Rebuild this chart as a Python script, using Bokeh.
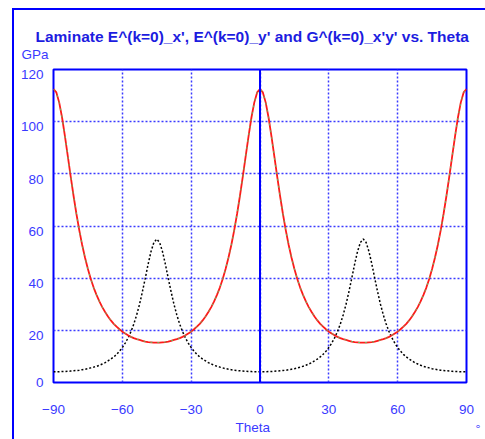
from bokeh.plotting import figure
from bokeh.models import Range1d, Span, FixedTicker, Title
from bokeh.embed import file_html
from bokeh.resources import INLINE

# ---- data (GPa vs. theta in degrees) ----
theta_deg = [-90, -88.75, -87.5, -86.25, -85, -83.75, -82.5, -81.25, -80, -78.75,
             -77.5, -76.25, -75, -73.75, -72.5, -71.25, -70, -68.75, -67.5, -66.25,
             -65, -63.75, -62.5, -61.25, -60, -58.75, -57.5, -56.25, -55, -53.75,
             -52.5, -51.25, -50, -48.75, -47.5, -46.25, -45, -43.75, -42.5, -41.25,
             -40, -38.75, -37.5, -36.25, -35, -33.75, -32.5, -31.25, -30, -28.75,
             -27.5, -26.25, -25, -23.75, -22.5, -21.25, -20, -18.75, -17.5, -16.25,
             -15, -13.75, -12.5, -11.25, -10, -8.75, -7.5, -6.25, -5, -3.75,
             -2.5, -1.25, 0, 1.25, 2.5, 3.75, 5, 6.25, 7.5, 8.75,
             10, 11.25, 12.5, 13.75, 15, 16.25, 17.5, 18.75, 20, 21.25,
             22.5, 23.75, 25, 26.25, 27.5, 28.75, 30, 31.25, 32.5, 33.75,
             35, 36.25, 37.5, 38.75, 40, 41.25, 42.5, 43.75, 45, 46.25,
             47.5, 48.75, 50, 51.25, 52.5, 53.75, 55, 56.25, 57.5, 58.75,
             60, 61.25, 62.5, 63.75, 65, 66.25, 67.5, 68.75, 70, 71.25,
             72.5, 73.75, 75, 76.25, 77.5, 78.75, 80, 81.25, 82.5, 83.75,
             85, 86.25, 87.5, 88.75, 90]

ex_gpa = [112.5, 111.2, 107.3, 101.5, 94.4, 86.7, 78.9, 71.5, 64.6, 58.3,
          52.7, 47.8, 43.5, 39.7, 36.4, 33.6, 31.1, 28.9, 27.0, 25.3,
          23.8, 22.5, 21.4, 20.4, 19.5, 18.8, 18.1, 17.5, 17.0, 16.6,
          16.3, 16.0, 15.7, 15.5, 15.4, 15.3, 15.3, 15.3, 15.4, 15.5,
          15.7, 16.0, 16.3, 16.6, 17.0, 17.5, 18.1, 18.8, 19.5, 20.4,
          21.4, 22.5, 23.8, 25.3, 27.0, 28.9, 31.1, 33.6, 36.4, 39.7,
          43.5, 47.8, 52.7, 58.3, 64.6, 71.5, 78.9, 86.7, 94.4, 101.5,
          107.3, 111.2, 112.5, 111.2, 107.3, 101.5, 94.4, 86.7, 78.9, 71.5,
          64.6, 58.3, 52.7, 47.8, 43.5, 39.7, 36.4, 33.6, 31.1, 28.9,
          27.0, 25.3, 23.8, 22.5, 21.4, 20.4, 19.5, 18.8, 18.1, 17.5,
          17.0, 16.6, 16.3, 16.0, 15.7, 15.5, 15.4, 15.3, 15.3, 15.3,
          15.4, 15.5, 15.7, 16.0, 16.3, 16.6, 17.0, 17.5, 18.1, 18.8,
          19.5, 20.4, 21.4, 22.5, 23.8, 25.3, 27.0, 28.9, 31.1, 33.6,
          36.4, 39.7, 43.5, 47.8, 52.7, 58.3, 64.6, 71.5, 78.9, 86.7,
          94.4, 101.5, 107.3, 111.2, 112.5]

# E_y' reads identical to E_x' over the whole plotted range (drawn as dashes on top)
ey_gpa = list(ex_gpa)

gxy_gpa = [4.1, 4.1, 4.1, 4.2, 4.2, 4.3, 4.4, 4.5, 4.6, 4.7,
           4.9, 5.1, 5.3, 5.6, 5.9, 6.2, 6.6, 7.1, 7.6, 8.3,
           9.0, 9.8, 10.8, 12.0, 13.4, 15.1, 17.1, 19.5, 22.4, 25.9,
           30.0, 34.8, 40.0, 45.4, 50.2, 53.7, 55.0, 53.7, 50.2, 45.4,
           40.0, 34.8, 30.0, 25.9, 22.4, 19.5, 17.1, 15.1, 13.4, 12.0,
           10.8, 9.8, 9.0, 8.3, 7.6, 7.1, 6.6, 6.2, 5.9, 5.6,
           5.3, 5.1, 4.9, 4.7, 4.6, 4.5, 4.4, 4.3, 4.2, 4.2,
           4.1, 4.1, 4.1, 4.1, 4.1, 4.2, 4.2, 4.3, 4.4, 4.5,
           4.6, 4.7, 4.9, 5.1, 5.3, 5.6, 5.9, 6.2, 6.6, 7.1,
           7.6, 8.3, 9.0, 9.8, 10.8, 12.0, 13.4, 15.1, 17.1, 19.5,
           22.4, 25.9, 30.0, 34.8, 40.0, 45.4, 50.2, 53.7, 55.0, 53.7,
           50.2, 45.4, 40.0, 34.8, 30.0, 25.9, 22.4, 19.5, 17.1, 15.1,
           13.4, 12.0, 10.8, 9.8, 9.0, 8.3, 7.6, 7.1, 6.6, 6.2,
           5.9, 5.6, 5.3, 5.1, 4.9, 4.7, 4.6, 4.5, 4.4, 4.3,
           4.2, 4.2, 4.1, 4.1, 4.1]

x_ticks = [-90, -60, -30, 0, 30, 60, 90]
y_ticks = [0, 20, 40, 60, 80, 100, 120]

title_text = "Laminate E^(k=0)_x', E^(k=0)_y' and G^(k=0)_x'y' vs. Theta"
x_title = "Theta"
y_unit = "GPa"
x_unit = "°"

BLUE = "#0000FF"
TITLE_C = "#1c1ce0"
TXT = "#3a3aff"
GRID_C = "#3a3aff"
FONT = "Liberation Sans"

p = figure(width=485, height=439, output_backend="svg", toolbar_location=None,
           x_range=Range1d(-90, 90), y_range=Range1d(0, 120),
           min_border_left=53, min_border_right=18, min_border_top=69, min_border_bottom=54,
           styles={"box-shadow": "inset 12px 8px 0 0 #FFFFFF, inset 14px 10px 0 0 #0000FF"})

p.background_fill_color = "white"
p.border_fill_color = None
p.outline_line_color = BLUE
p.outline_line_width = 2

# y tick labels sit ~5 px below their grid lines in the reference:
# a label-only range shifted by 2 units carries the left axis
lab_shift = 2
p.extra_y_ranges = {"ylab": Range1d(y_ticks[0] + lab_shift, y_ticks[-1] + lab_shift)}
ylab_ticks = [max(t, y_ticks[0] + lab_shift) for t in y_ticks]

# titles / unit texts
p.add_layout(Title(text=y_unit, align="left", offset=-32, standoff=16,
                   text_font=FONT, text_font_size="13.5px", text_font_style="normal",
                   text_color=TXT), "above")
p.title.text = title_text
p.title.align = "left"
p.title.offset = -18
p.title.standoff = -17
p.title.text_font = FONT
p.title.text_font_size = "15.5px"
p.title.text_font_style = "bold"
p.title.text_color = TITLE_C

# axes
for ax in (p.xaxis[0], p.yaxis[0]):
    ax.axis_line_color = None
    ax.major_tick_line_color = None
    ax.minor_tick_line_color = None
    ax.major_tick_in = 0
    ax.major_tick_out = 0
    ax.major_label_text_font = FONT
    ax.major_label_text_font_size = "13.5px"
    ax.major_label_text_color = TXT

p.xaxis.ticker = FixedTicker(ticks=x_ticks)
p.yaxis[0].y_range_name = "ylab"
p.yaxis[0].ticker = FixedTicker(ticks=ylab_ticks)
p.yaxis[0].major_label_overrides = {ylab_ticks[0]: str(y_ticks[0])}
p.xaxis.major_label_standoff = 22
p.yaxis.major_label_standoff = 10

p.add_layout(Title(text=x_title, align="left", offset=182, standoff=6, vertical_align="top",
                   text_font=FONT, text_font_size="13.5px", text_font_style="normal",
                   text_color=TXT), "below")
p.add_layout(Title(text=x_unit, align="right", offset=-46, standoff=6, vertical_align="bottom",
                   text_font=FONT, text_font_size="10px", text_font_style="normal",
                   text_color=TXT), "right")

# grids
p.xgrid.ticker = FixedTicker(ticks=x_ticks)
p.ygrid.ticker = FixedTicker(ticks=y_ticks)
for g in (p.xgrid[0], p.ygrid[0]):
    g.grid_line_color = GRID_C
    g.grid_line_width = 1.5
    g.grid_line_dash = "2 2"

p.add_layout(Span(location=0, dimension="height", line_color=BLUE, line_width=2))

# curves
p.line(theta_deg, gxy_gpa, line_color="black", line_width=1.5, line_dash="2 2")
p.line(theta_deg, ex_gpa, line_color="#ff1a1a", line_width=1.8)
p.line(theta_deg, ey_gpa, line_color="#60c060", line_width=1, line_dash="2 5")

open("out.html", "w").write(file_html(p, INLINE))
